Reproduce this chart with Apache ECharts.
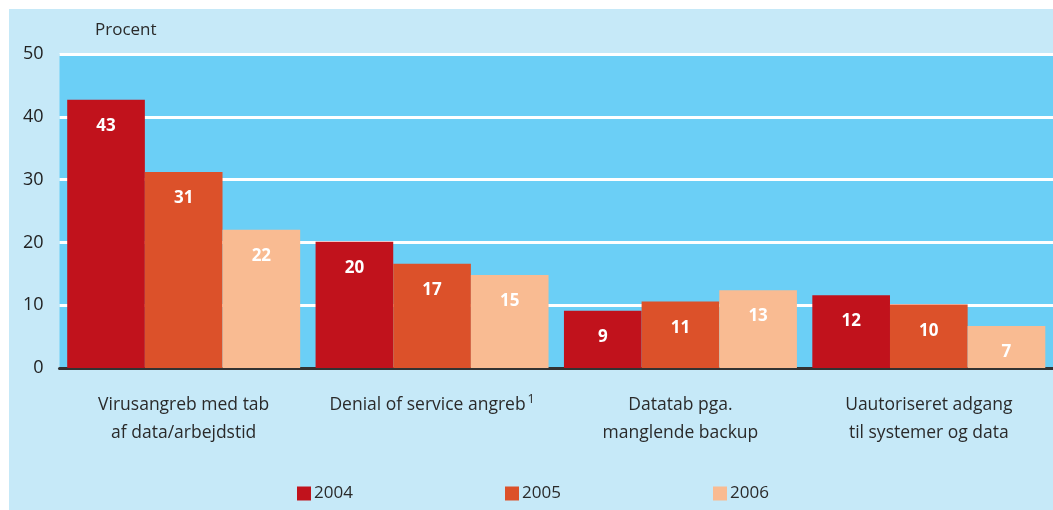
<!DOCTYPE html>
<html>
<head>
<meta charset="utf-8">
<script src="https://cdn.jsdelivr.net/npm/echarts@6/dist/echarts.min.js"></script>
<style>
    html, body { margin: 0; padding: 0; background: #ffffff; }
    #chart { position: absolute; left: 9px; top: 9px; width: 1044px; height: 501px; background: #c6e9f8; }
</style>
</head>
<body>
<div id="chart"></div>
<script>
    // kategorier og værdier (procent)
    var categories = [
        'Virusangreb med tab\naf data/arbejdstid',
        'Denial of service angreb',
        'Datatab pga.\nmanglende backup',
        'Uautoriseret adgang\ntil systemer og data'
    ];
    var years = ['2004', '2005', '2006'];
    // søjlehøjder
    var values2004 = [42.7, 20.1, 9.1, 11.6];
    var values2005 = [31.2, 16.6, 10.6, 10.1];
    var values2006 = [22.0, 14.8, 12.4, 6.7];
    // tal skrevet i søjlerne
    var labels2004 = [43, 20, 9, 12];
    var labels2005 = [31, 17, 11, 10];
    var labels2006 = [22, 15, 13, 7];
    var yTicks = [0, 10, 20, 30, 40, 50];

    var colors = ['#c1121c', '#dc512a', '#f9bb92'];
    var font = 'Open Sans';

    var chart = echarts.init(document.getElementById('chart'));

    function makeSeries(name, data, labels, color) {
        return {
            name: name,
            type: 'bar',
            data: data,
            barGap: 0,
            barCategoryGap: '6.2%',
            itemStyle: { color: color },
            label: {
                show: true,
                position: 'insideTop',
                distance: 18,
                color: '#ffffff',
                fontFamily: font,
                fontWeight: 'bold',
                fontSize: 17,
                formatter: function (p) { return labels[p.dataIndex]; }
            }
        };
    }

    function makeLegend(name, left) {
        return {
            data: [name],
            left: left,
            top: 471,
            itemWidth: 14,
            itemHeight: 14,
            itemGap: 0,
            icon: 'rect',
            textStyle: { fontFamily: font, fontSize: 17, color: '#2a2a2a', padding: [0, 0, 0, -2] }
        };
    }

    chart.setOption({
        animation: false,
        title: {
            text: 'Procent',
            left: 81,
            top: 8,
            textStyle: { fontFamily: font, fontSize: 17, fontWeight: 'normal', color: '#2a2a2a' }
        },
        legend: [
            makeLegend(years[0], 283),
            makeLegend(years[1], 491),
            makeLegend(years[2], 699)
        ],
        grid: {
            left: 50.5,
            right: 0,
            top: 45,
            bottom: 142,
            show: true,
            backgroundColor: '#6bcff6',
            borderWidth: 0
        },
        xAxis: {
            type: 'category',
            data: categories,
            axisTick: { show: false },
            axisLine: { show: true, lineStyle: { color: '#333333', width: 3 } },
            axisLabel: {
                interval: 0,
                margin: 23,
                fontFamily: font,
                fontSize: 17.5,
                lineHeight: 28,
                color: '#2a2a2a',
                formatter: function (v) {
                    if (v === categories[1]) return v + '{sup|1}';
                    return v;
                },
                rich: {
                    sup: { fontFamily: font, fontSize: 12.5, color: '#2a2a2a', padding: [0, 0, 11, 2] }
                }
            }
        },
        yAxis: {
            type: 'value',
            min: yTicks[0],
            max: yTicks[yTicks.length - 1],
            interval: 10,
            axisLine: { show: false },
            axisTick: { show: false },
            axisLabel: {
                margin: 16,
                fontFamily: font,
                fontSize: 18,
                color: '#222222'
            },
            splitLine: { lineStyle: { color: '#ffffff', width: 3 } }
        },
        series: [
            makeSeries(years[0], values2004, labels2004, colors[0]),
            makeSeries(years[1], values2005, labels2005, colors[1]),
            makeSeries(years[2], values2006, labels2006, colors[2])
        ]
    });
</script>
</body>
</html>
